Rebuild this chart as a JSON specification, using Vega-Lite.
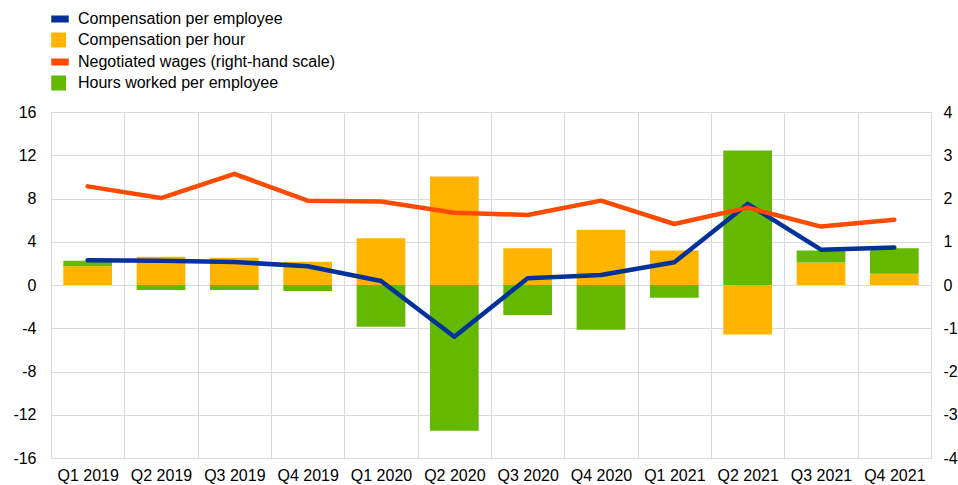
{
  "$schema": "https://vega.github.io/schema/vega-lite/v6.json",
  "width": 880,
  "height": 346,
  "autosize": {"type": "none"},
  "padding": {"left": 51, "top": 112, "right": 27, "bottom": 27},
  "background": "white",
  "config": {
    "font": "Liberation Sans",
    "view": {"stroke": "#d9d9d9", "strokeWidth": 1},
    "axis": {
      "labelFont": "Liberation Sans",
      "labelFontSize": 16,
      "labelColor": "#000000",
      "labelExpr": "'' + datum.value",
      "domain": false,
      "ticks": false,
      "tickSize": 0,
      "gridColor": "#d9d9d9",
      "gridWidth": 1,
      "gridOpacity": 1,
      "title": null
    },
    "legend": {
      "labelFont": "Liberation Sans",
      "labelFontSize": 16,
      "labelColor": "#000000",
      "labelLimit": 0
    }
  },
  "data": {
    "values": [
      {"q": "Q1 2019", "series": "Compensation per employee", "value": 2.3},
      {"q": "Q2 2019", "series": "Compensation per employee", "value": 2.25},
      {"q": "Q3 2019", "series": "Compensation per employee", "value": 2.13},
      {"q": "Q4 2019", "series": "Compensation per employee", "value": 1.73},
      {"q": "Q1 2020", "series": "Compensation per employee", "value": 0.37},
      {"q": "Q2 2020", "series": "Compensation per employee", "value": -4.78},
      {"q": "Q3 2020", "series": "Compensation per employee", "value": 0.62},
      {"q": "Q4 2020", "series": "Compensation per employee", "value": 0.93},
      {"q": "Q1 2021", "series": "Compensation per employee", "value": 2.1},
      {"q": "Q2 2021", "series": "Compensation per employee", "value": 7.5},
      {"q": "Q3 2021", "series": "Compensation per employee", "value": 3.27},
      {"q": "Q4 2021", "series": "Compensation per employee", "value": 3.46},
      {"q": "Q1 2019", "series": "Compensation per hour", "value": 1.73},
      {"q": "Q2 2019", "series": "Compensation per hour", "value": 2.62},
      {"q": "Q3 2019", "series": "Compensation per hour", "value": 2.53},
      {"q": "Q4 2019", "series": "Compensation per hour", "value": 2.16},
      {"q": "Q1 2020", "series": "Compensation per hour", "value": 4.32},
      {"q": "Q2 2020", "series": "Compensation per hour", "value": 10.03},
      {"q": "Q3 2020", "series": "Compensation per hour", "value": 3.4},
      {"q": "Q4 2020", "series": "Compensation per hour", "value": 5.12},
      {"q": "Q1 2021", "series": "Compensation per hour", "value": 3.18},
      {"q": "Q2 2021", "series": "Compensation per hour", "value": -4.57},
      {"q": "Q3 2021", "series": "Compensation per hour", "value": 2.07},
      {"q": "Q4 2021", "series": "Compensation per hour", "value": 1.05},
      {"q": "Q1 2019", "series": "Negotiated wages (right-hand scale)", "value": 2.28},
      {"q": "Q2 2019", "series": "Negotiated wages (right-hand scale)", "value": 2.01},
      {"q": "Q3 2019", "series": "Negotiated wages (right-hand scale)", "value": 2.57},
      {"q": "Q4 2019", "series": "Negotiated wages (right-hand scale)", "value": 1.95},
      {"q": "Q1 2020", "series": "Negotiated wages (right-hand scale)", "value": 1.93},
      {"q": "Q2 2020", "series": "Negotiated wages (right-hand scale)", "value": 1.67},
      {"q": "Q3 2020", "series": "Negotiated wages (right-hand scale)", "value": 1.62},
      {"q": "Q4 2020", "series": "Negotiated wages (right-hand scale)", "value": 1.95},
      {"q": "Q1 2021", "series": "Negotiated wages (right-hand scale)", "value": 1.41},
      {"q": "Q2 2021", "series": "Negotiated wages (right-hand scale)", "value": 1.79},
      {"q": "Q3 2021", "series": "Negotiated wages (right-hand scale)", "value": 1.35},
      {"q": "Q4 2021", "series": "Negotiated wages (right-hand scale)", "value": 1.51},
      {"q": "Q1 2019", "series": "Hours worked per employee", "value": 0.52},
      {"q": "Q2 2019", "series": "Hours worked per employee", "value": -0.46},
      {"q": "Q3 2019", "series": "Hours worked per employee", "value": -0.46},
      {"q": "Q4 2019", "series": "Hours worked per employee", "value": -0.56},
      {"q": "Q1 2020", "series": "Hours worked per employee", "value": -3.86},
      {"q": "Q2 2020", "series": "Hours worked per employee", "value": -13.49},
      {"q": "Q3 2020", "series": "Hours worked per employee", "value": -2.78},
      {"q": "Q4 2020", "series": "Hours worked per employee", "value": -4.14},
      {"q": "Q1 2021", "series": "Hours worked per employee", "value": -1.17},
      {"q": "Q2 2021", "series": "Hours worked per employee", "value": 12.44},
      {"q": "Q3 2021", "series": "Hours worked per employee", "value": 1.11},
      {"q": "Q4 2021", "series": "Hours worked per employee", "value": 2.35}
    ]
  },
  "encoding": {
    "x": {
      "field": "q",
      "type": "nominal",
      "sort": null,
      "scale": {"paddingInner": 0.336, "paddingOuter": 0.168},
      "axis": {
        "labelAngle": 0,
        "grid": true,
        "bandPosition": 1,
        "tickOffset": 12.32,
        "labelOffset": -12.32,
        "labelPadding": 9
      }
    },
    "color": {
      "field": "series",
      "type": "nominal",
      "scale": {
        "domain": ["Compensation per employee", "Compensation per hour", "Negotiated wages (right-hand scale)", "Hours worked per employee"],
        "range": ["#003299", "#ffb400", "#ff4b00", "#65b800"]
      },
      "legend": {
        "orient": "none",
        "legendX": 0,
        "legendY": -102,
        "title": null,
        "symbolSize": 256,
        "symbolType": "M-1,-0.35H1V0.35H-1Z",
        "labelOffset": 9,
        "rowPadding": 3,
        "labelLimit": 0,
        "encode": {
          "symbols": {
            "update": {
              "shape": {"signal": "indexof(['Compensation per employee','Negotiated wages (right-hand scale)'], datum.value) >= 0 ? 'M-1,-0.35H1V0.35H-1Z' : 'M-1,-0.83H0.66V0.83H-1Z'"},
              "fill": {"scale": "color", "field": "value"},
              "stroke": {"value": "transparent"},
              "opacity": {"value": 1}
            }
          }
        }
      }
    }
  },
  "layer": [
    {
      "layer": [
        {
          "transform": [{"filter": "datum.series === 'Compensation per hour' || datum.series === 'Hours worked per employee'"}],
          "mark": {"type": "bar"},
          "encoding": {
            "y": {
              "field": "value",
              "type": "quantitative",
              "stack": "zero",
              "scale": {"domain": [-16, 16], "nice": false, "zero": false},
              "axis": {"values": [-16, -12, -8, -4, 0, 4, 8, 12, 16], "grid": true, "labelPadding": 15}
            },
            "order": {"field": "series", "sort": "ascending"}
          }
        },
        {
          "transform": [{"filter": "datum.series === 'Compensation per employee'"}],
          "mark": {"type": "line", "strokeWidth": 4.5, "strokeCap": "round", "strokeJoin": "round"},
          "encoding": {
            "y": {"field": "value", "type": "quantitative"}
          }
        }
      ]
    },
    {
      "transform": [{"filter": "datum.series === 'Negotiated wages (right-hand scale)'"}],
      "mark": {"type": "line", "strokeWidth": 4.5, "strokeCap": "round", "strokeJoin": "round"},
      "encoding": {
        "y": {
          "field": "value",
          "type": "quantitative",
          "scale": {"domain": [-4, 4], "nice": false, "zero": false},
          "axis": {"orient": "right", "values": [-4, -3, -2, -1, 0, 1, 2, 3, 4], "grid": false, "labelPadding": 12}
        }
      }
    }
  ],
  "resolve": {"scale": {"y": "independent"}}
}
